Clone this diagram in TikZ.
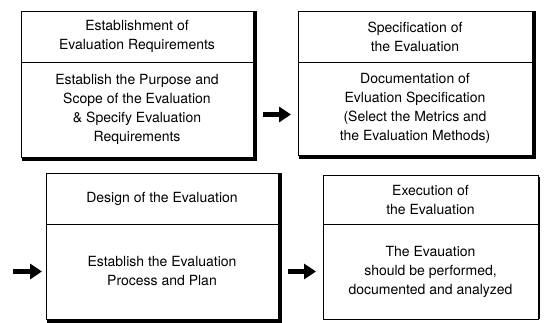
\documentclass[tikz,border=0pt]{standalone}
\usepackage{fontspec}
\setmainfont{TeX Gyre Heros}
\usetikzlibrary{arrows.meta}

\tikzset{
  stage/.style={draw, line width=0.8pt, anchor=north west, inner sep=0pt, outer sep=0pt,
    align=center, minimum width=232pt, font=\fontsize{14}{19}\selectfont},
  shadowline/.style={line width=4pt, line cap=rect},
  blockarrow/.style={line width=4.5pt, -{Triangle[length=12pt,width=15pt]},
    shorten <=10pt, shorten >=7pt}
}

\begin{document}
\begin{tikzpicture}[x=1pt,y=-1pt]
  \useasboundingbox (0,0) rectangle (557,323);

  % first row
  \node[stage, minimum height=51pt] (req) at (21,11)
    {Establishment of\\Evaluation Requirements};
  \node[stage, minimum height=95pt] (reqtext) at (req.south west)
    {Establish the Purpose and\\Scope of the Evaluation\\\& Specify Evaluation\\Requirements};
  \node[stage, minimum width=234pt, minimum height=51pt] (spec) at (298,11)
    {Specification of\\the Evaluation};
  \node[stage, minimum width=234pt, minimum height=93pt] (spectext) at (spec.south west)
    {Documentation of\\Evluation Specification\\(Select the Metrics and\\the Evaluation Methods)};

  % second row
  \node[stage, minimum height=51pt] (design) at (46,173)
    {Design of the Evaluation};
  \node[stage, minimum height=95pt] (designtext) at (design.south west)
    {Establish the Evaluation\\Process and Plan};
  \node[stage, minimum width=215pt, minimum height=49pt] (exec) at (323,175)
    {Execution of\\the Evaluation};
  \node[stage, minimum width=215pt, minimum height=95pt] (exectext) at (exec.south west)
    {The Evauation\\should be performed,\\documented and analyzed};

  % shadows
  \foreach \top/\bot in {req/reqtext, spec/spectext, design/designtext}
    \draw[shadowline] ([xshift=2pt,yshift=-2pt]\top.north east) -- ([xshift=2pt,yshift=-2pt]\bot.south east)
      -- ([xshift=3pt,yshift=-2pt]\bot.south west);
  \draw[line width=2pt] ([xshift=1pt,yshift=-2pt]exec.north east) -- ([xshift=1pt]exectext.south east);

  % arrows
  \coordinate (inlet) at ([xshift=-33pt]designtext.west);
  \draw[blockarrow] ([yshift=-5pt]reqtext.east) -- ([yshift=-5pt]reqtext.east -| spectext.west);
  \draw[blockarrow, shorten <=0pt, shorten >=4pt] (inlet) -- (designtext.west);
  \draw[blockarrow] (designtext.east) -- (designtext.east -| exectext.west);
\end{tikzpicture}
\end{document}
